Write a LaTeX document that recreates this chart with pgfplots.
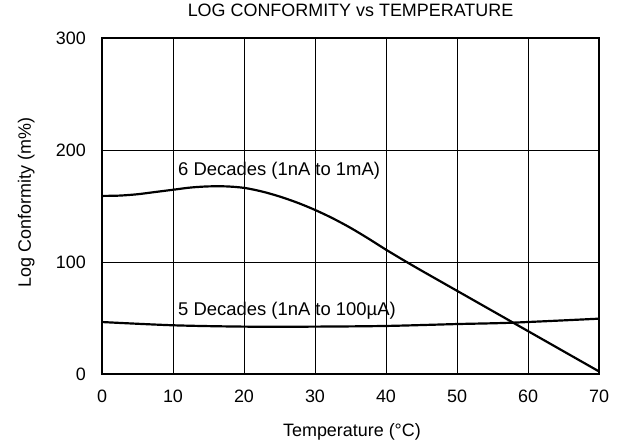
\documentclass[border=0pt]{standalone}
\usepackage{fontspec}
\setmainfont{Liberation Sans}
\usepackage{pgfplots}
\pgfplotsset{compat=1.18}
\usetikzlibrary{calc}

\begin{document}
\begin{tikzpicture}
\begin{axis}[
    name=ax,
    scale only axis,
    width=497bp, height=336bp,
    xmin=0, xmax=70,
    ymin=0, ymax=300,
    xtick={0,10,...,70},
    ytick={0,100,200,300},
    grid=major,
    major grid style={black, line width=0.8pt},
    axis line style={line width=2.4pt},
    major tick length=0pt,
    /pgf/number format/assume math mode=true,
    tick label style={font=\fontsize{18}{21}\selectfont, inner sep=0pt},
    xticklabel style={anchor=north, yshift=-16bp},
    yticklabel style={anchor=east, xshift=-16bp},
    label style={font=\fontsize{18}{21}\selectfont, inner sep=0pt},
    xlabel={Temperature (°C)},
    ylabel={Log Conformity (m\%)},
    xlabel style={at={(axis description cs:0.503,-0.1726)}, anchor=center},
    ylabel style={at={(axis description cs:-0.1523,0.51)}, anchor=center},
    title={LOG CONFORMITY vs TEMPERATURE},
    title style={font=\fontsize{18}{21}\selectfont, inner sep=0pt,
        at={(axis description cs:0.5,1.0655)}, anchor=center},
    clip=false,
]
% 6 decades (1nA to 1mA)
\addplot[black, line width=2.2pt, smooth] coordinates {
    (0,159) (2.5,159.3) (5,160.5) (7.5,162.5) (10,164.5) (12.5,166.5)
    (15,167.5) (17.5,167.5) (20,166.2) (22.5,163) (25,158.5) (27.5,153)
    (30,146.5) (32.5,139) (35,130.5) (37.5,121) (40,111) (42.5,101.5)
    (45,92.3) (47.5,83.3) (50,74.3) (52.5,65.3) (55,56.3) (57.5,47.3)
    (60,38.3) (62.5,29.3) (65,20.3) (67.5,11.3) (70,2.3)
};
% 5 decades (1nA to 100uA)
\addplot[black, line width=2.2pt, smooth] coordinates {
    (0,46.4) (10,43.5) (20,42.3) (30,42.3) (40,42.9) (50,44.6)
    (57.7,45.8) (70,49.4)
};
\node[anchor=base west, font=\fontsize{18.5}{21}\selectfont, inner sep=0pt]
    at (axis cs:10.7,176.8) {6 Decades (1nA to 1mA)};
\node[anchor=base west, font=\fontsize{18.5}{21}\selectfont, inner sep=0pt]
    at (axis cs:10.7,51.8) {5 Decades (1nA to 100µA)};
\end{axis}
\pgfresetboundingbox
\path ($(ax.south west)+(-102bp,-70bp)$) rectangle ($(ax.north east)+(27bp,38bp)$);
\end{tikzpicture}
\end{document}
